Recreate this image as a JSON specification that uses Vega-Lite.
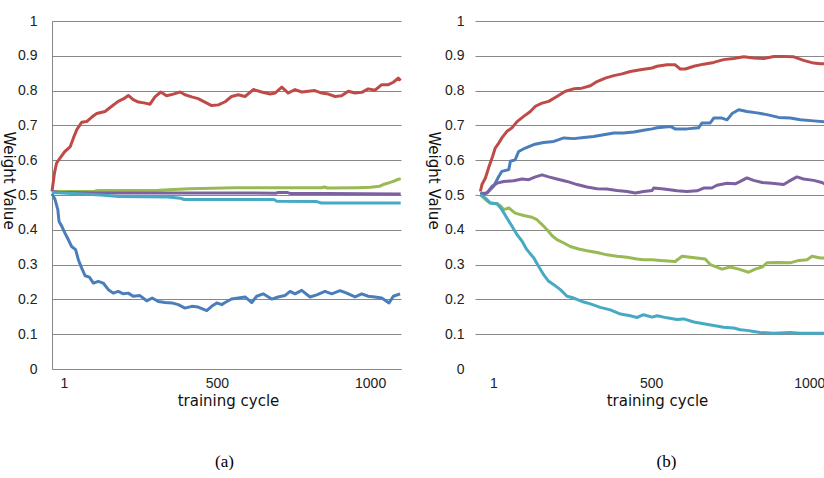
{
  "$schema": "https://vega.github.io/schema/vega-lite/v6.json",
  "background": "white",
  "padding": {"left": 0, "top": 14, "right": 0, "bottom": 0},
  "spacing": 22,
  "config": {
    "view": {"stroke": null},
    "axis": {
      "labelFont": "Liberation Sans",
      "labelFontSize": 14,
      "labelColor": "#222222",
      "titleFont": "DejaVu Sans",
      "titleFontSize": 15,
      "titleFontWeight": "normal",
      "titleColor": "#111111",
      "ticks": false,
      "labelFlush": false,
      "labelOverlap": false,
      "gridColor": "#888888",
      "gridWidth": 1,
      "domainColor": "#888888"
    },
    "title": {"font": "Liberation Serif", "fontSize": 17, "fontWeight": "normal", "color": "#000000"}
  },
  "datasets": {
    "a": [
      {"s":"s1","c":1,"v":0.504},{"s":"s1","c":11,"v":0.487},{"s":"s1","c":20,"v":0.458},{"s":"s1","c":24,"v":0.424},{"s":"s1","c":33,"v":0.410},{"s":"s1","c":43,"v":0.391},{"s":"s1","c":54,"v":0.372},{"s":"s1","c":65,"v":0.352},{"s":"s1","c":78,"v":0.343},{"s":"s1","c":87,"v":0.314},{"s":"s1","c":98,"v":0.290},{"s":"s1","c":109,"v":0.268},{"s":"s1","c":123,"v":0.264},{"s":"s1","c":136,"v":0.247},{"s":"s1","c":152,"v":0.252},{"s":"s1","c":168,"v":0.247},{"s":"s1","c":185,"v":0.228},{"s":"s1","c":201,"v":0.218},{"s":"s1","c":217,"v":0.223},{"s":"s1","c":234,"v":0.216},{"s":"s1","c":250,"v":0.218},{"s":"s1","c":266,"v":0.209},{"s":"s1","c":288,"v":0.211},{"s":"s1","c":310,"v":0.196},{"s":"s1","c":328,"v":0.204},{"s":"s1","c":348,"v":0.194},{"s":"s1","c":370,"v":0.191},{"s":"s1","c":392,"v":0.190},{"s":"s1","c":413,"v":0.185},{"s":"s1","c":435,"v":0.175},{"s":"s1","c":457,"v":0.180},{"s":"s1","c":478,"v":0.178},{"s":"s1","c":506,"v":0.168},{"s":"s1","c":522,"v":0.180},{"s":"s1","c":539,"v":0.190},{"s":"s1","c":555,"v":0.185},{"s":"s1","c":566,"v":0.191},{"s":"s1","c":587,"v":0.201},{"s":"s1","c":609,"v":0.204},{"s":"s1","c":631,"v":0.207},{"s":"s1","c":653,"v":0.191},{"s":"s1","c":669,"v":0.209},{"s":"s1","c":690,"v":0.216},{"s":"s1","c":718,"v":0.201},{"s":"s1","c":739,"v":0.207},{"s":"s1","c":761,"v":0.211},{"s":"s1","c":778,"v":0.223},{"s":"s1","c":794,"v":0.216},{"s":"s1","c":816,"v":0.226},{"s":"s1","c":843,"v":0.207},{"s":"s1","c":865,"v":0.213},{"s":"s1","c":892,"v":0.223},{"s":"s1","c":914,"v":0.216},{"s":"s1","c":941,"v":0.225},{"s":"s1","c":963,"v":0.218},{"s":"s1","c":990,"v":0.207},{"s":"s1","c":1012,"v":0.216},{"s":"s1","c":1033,"v":0.209},{"s":"s1","c":1055,"v":0.207},{"s":"s1","c":1077,"v":0.204},{"s":"s1","c":1101,"v":0.190},{"s":"s1","c":1115,"v":0.209},{"s":"s1","c":1137,"v":0.216},
      {"s":"s2","c":1,"v":0.510},{"s":"s2","c":9,"v":0.563},{"s":"s2","c":16,"v":0.592},{"s":"s2","c":27,"v":0.606},{"s":"s2","c":43,"v":0.625},{"s":"s2","c":60,"v":0.638},{"s":"s2","c":71,"v":0.664},{"s":"s2","c":82,"v":0.688},{"s":"s2","c":98,"v":0.709},{"s":"s2","c":114,"v":0.711},{"s":"s2","c":131,"v":0.724},{"s":"s2","c":147,"v":0.734},{"s":"s2","c":174,"v":0.740},{"s":"s2","c":196,"v":0.755},{"s":"s2","c":217,"v":0.769},{"s":"s2","c":234,"v":0.776},{"s":"s2","c":250,"v":0.786},{"s":"s2","c":266,"v":0.774},{"s":"s2","c":283,"v":0.767},{"s":"s2","c":305,"v":0.764},{"s":"s2","c":321,"v":0.761},{"s":"s2","c":337,"v":0.782},{"s":"s2","c":356,"v":0.796},{"s":"s2","c":375,"v":0.785},{"s":"s2","c":397,"v":0.790},{"s":"s2","c":419,"v":0.796},{"s":"s2","c":435,"v":0.788},{"s":"s2","c":457,"v":0.782},{"s":"s2","c":478,"v":0.777},{"s":"s2","c":500,"v":0.767},{"s":"s2","c":522,"v":0.757},{"s":"s2","c":544,"v":0.759},{"s":"s2","c":566,"v":0.768},{"s":"s2","c":587,"v":0.783},{"s":"s2","c":609,"v":0.788},{"s":"s2","c":631,"v":0.783},{"s":"s2","c":658,"v":0.803},{"s":"s2","c":685,"v":0.796},{"s":"s2","c":713,"v":0.790},{"s":"s2","c":729,"v":0.793},{"s":"s2","c":751,"v":0.810},{"s":"s2","c":772,"v":0.793},{"s":"s2","c":794,"v":0.803},{"s":"s2","c":816,"v":0.796},{"s":"s2","c":838,"v":0.798},{"s":"s2","c":859,"v":0.800},{"s":"s2","c":881,"v":0.793},{"s":"s2","c":903,"v":0.790},{"s":"s2","c":925,"v":0.783},{"s":"s2","c":946,"v":0.785},{"s":"s2","c":968,"v":0.798},{"s":"s2","c":990,"v":0.793},{"s":"s2","c":1012,"v":0.795},{"s":"s2","c":1033,"v":0.805},{"s":"s2","c":1055,"v":0.801},{"s":"s2","c":1077,"v":0.817},{"s":"s2","c":1099,"v":0.817},{"s":"s2","c":1115,"v":0.824},{"s":"s2","c":1131,"v":0.836},{"s":"s2","c":1139,"v":0.829},
      {"s":"s3","c":1,"v":0.510},{"s":"s3","c":140,"v":0.511},{"s":"s3","c":150,"v":0.513},{"s":"s3","c":350,"v":0.514},{"s":"s3","c":400,"v":0.516},{"s":"s3","c":450,"v":0.518},{"s":"s3","c":560,"v":0.520},{"s":"s3","c":600,"v":0.521},{"s":"s3","c":880,"v":0.521},{"s":"s3","c":890,"v":0.523},{"s":"s3","c":900,"v":0.520},{"s":"s3","c":1000,"v":0.521},{"s":"s3","c":1040,"v":0.522},{"s":"s3","c":1070,"v":0.525},{"s":"s3","c":1085,"v":0.531},{"s":"s3","c":1100,"v":0.535},{"s":"s3","c":1115,"v":0.539},{"s":"s3","c":1125,"v":0.543},{"s":"s3","c":1139,"v":0.547},
      {"s":"s4","c":1,"v":0.510},{"s":"s4","c":20,"v":0.508},{"s":"s4","c":150,"v":0.506},{"s":"s4","c":600,"v":0.506},{"s":"s4","c":730,"v":0.505},{"s":"s4","c":740,"v":0.507},{"s":"s4","c":770,"v":0.507},{"s":"s4","c":780,"v":0.504},{"s":"s4","c":900,"v":0.504},{"s":"s4","c":1139,"v":0.503},
      {"s":"s5","c":1,"v":0.507},{"s":"s5","c":100,"v":0.503},{"s":"s5","c":160,"v":0.500},{"s":"s5","c":220,"v":0.496},{"s":"s5","c":380,"v":0.494},{"s":"s5","c":420,"v":0.491},{"s":"s5","c":432,"v":0.487},{"s":"s5","c":725,"v":0.487},{"s":"s5","c":735,"v":0.482},{"s":"s5","c":865,"v":0.481},{"s":"s5","c":880,"v":0.477},{"s":"s5","c":1139,"v":0.477}
    ],
    "b": [
      {"s":"s1","c":1,"v":0.504},{"s":"s1","c":22,"v":0.506},{"s":"s1","c":43,"v":0.525},{"s":"s1","c":59,"v":0.553},{"s":"s1","c":69,"v":0.568},{"s":"s1","c":91,"v":0.573},{"s":"s1","c":96,"v":0.597},{"s":"s1","c":111,"v":0.601},{"s":"s1","c":122,"v":0.625},{"s":"s1","c":143,"v":0.635},{"s":"s1","c":170,"v":0.645},{"s":"s1","c":201,"v":0.651},{"s":"s1","c":233,"v":0.654},{"s":"s1","c":265,"v":0.664},{"s":"s1","c":296,"v":0.662},{"s":"s1","c":328,"v":0.665},{"s":"s1","c":359,"v":0.668},{"s":"s1","c":391,"v":0.673},{"s":"s1","c":423,"v":0.678},{"s":"s1","c":454,"v":0.678},{"s":"s1","c":486,"v":0.681},{"s":"s1","c":517,"v":0.686},{"s":"s1","c":544,"v":0.690},{"s":"s1","c":560,"v":0.693},{"s":"s1","c":602,"v":0.697},{"s":"s1","c":617,"v":0.690},{"s":"s1","c":654,"v":0.690},{"s":"s1","c":691,"v":0.693},{"s":"s1","c":702,"v":0.707},{"s":"s1","c":728,"v":0.707},{"s":"s1","c":739,"v":0.721},{"s":"s1","c":765,"v":0.721},{"s":"s1","c":781,"v":0.716},{"s":"s1","c":797,"v":0.734},{"s":"s1","c":818,"v":0.745},{"s":"s1","c":844,"v":0.740},{"s":"s1","c":876,"v":0.736},{"s":"s1","c":907,"v":0.731},{"s":"s1","c":944,"v":0.723},{"s":"s1","c":981,"v":0.721},{"s":"s1","c":1013,"v":0.716},{"s":"s1","c":1055,"v":0.713},{"s":"s1","c":1094,"v":0.710},
      {"s":"s2","c":1,"v":0.510},{"s":"s2","c":6,"v":0.530},{"s":"s2","c":17,"v":0.549},{"s":"s2","c":27,"v":0.578},{"s":"s2","c":38,"v":0.606},{"s":"s2","c":48,"v":0.635},{"s":"s2","c":59,"v":0.649},{"s":"s2","c":69,"v":0.664},{"s":"s2","c":85,"v":0.683},{"s":"s2","c":101,"v":0.693},{"s":"s2","c":117,"v":0.711},{"s":"s2","c":138,"v":0.726},{"s":"s2","c":159,"v":0.740},{"s":"s2","c":175,"v":0.755},{"s":"s2","c":196,"v":0.764},{"s":"s2","c":217,"v":0.769},{"s":"s2","c":243,"v":0.783},{"s":"s2","c":270,"v":0.798},{"s":"s2","c":296,"v":0.805},{"s":"s2","c":322,"v":0.807},{"s":"s2","c":349,"v":0.814},{"s":"s2","c":370,"v":0.826},{"s":"s2","c":396,"v":0.836},{"s":"s2","c":423,"v":0.843},{"s":"s2","c":449,"v":0.848},{"s":"s2","c":475,"v":0.855},{"s":"s2","c":507,"v":0.860},{"s":"s2","c":544,"v":0.865},{"s":"s2","c":560,"v":0.870},{"s":"s2","c":591,"v":0.874},{"s":"s2","c":617,"v":0.874},{"s":"s2","c":633,"v":0.862},{"s":"s2","c":649,"v":0.862},{"s":"s2","c":676,"v":0.870},{"s":"s2","c":707,"v":0.876},{"s":"s2","c":739,"v":0.881},{"s":"s2","c":770,"v":0.889},{"s":"s2","c":802,"v":0.892},{"s":"s2","c":834,"v":0.897},{"s":"s2","c":865,"v":0.894},{"s":"s2","c":897,"v":0.892},{"s":"s2","c":929,"v":0.898},{"s":"s2","c":960,"v":0.898},{"s":"s2","c":992,"v":0.897},{"s":"s2","c":1023,"v":0.887},{"s":"s2","c":1055,"v":0.879},{"s":"s2","c":1076,"v":0.877},{"s":"s2","c":1094,"v":0.877},
      {"s":"s3","c":1,"v":0.501},{"s":"s3","c":17,"v":0.487},{"s":"s3","c":32,"v":0.477},{"s":"s3","c":54,"v":0.475},{"s":"s3","c":64,"v":0.469},{"s":"s3","c":75,"v":0.458},{"s":"s3","c":91,"v":0.463},{"s":"s3","c":111,"v":0.448},{"s":"s3","c":138,"v":0.441},{"s":"s3","c":164,"v":0.436},{"s":"s3","c":180,"v":0.429},{"s":"s3","c":196,"v":0.415},{"s":"s3","c":212,"v":0.400},{"s":"s3","c":228,"v":0.383},{"s":"s3","c":243,"v":0.372},{"s":"s3","c":265,"v":0.362},{"s":"s3","c":285,"v":0.352},{"s":"s3","c":312,"v":0.345},{"s":"s3","c":338,"v":0.340},{"s":"s3","c":370,"v":0.335},{"s":"s3","c":401,"v":0.328},{"s":"s3","c":433,"v":0.324},{"s":"s3","c":465,"v":0.321},{"s":"s3","c":496,"v":0.316},{"s":"s3","c":517,"v":0.314},{"s":"s3","c":544,"v":0.314},{"s":"s3","c":570,"v":0.312},{"s":"s3","c":617,"v":0.309},{"s":"s3","c":639,"v":0.324},{"s":"s3","c":665,"v":0.321},{"s":"s3","c":712,"v":0.316},{"s":"s3","c":728,"v":0.300},{"s":"s3","c":765,"v":0.287},{"s":"s3","c":791,"v":0.293},{"s":"s3","c":818,"v":0.287},{"s":"s3","c":849,"v":0.278},{"s":"s3","c":870,"v":0.287},{"s":"s3","c":892,"v":0.293},{"s":"s3","c":907,"v":0.305},{"s":"s3","c":939,"v":0.306},{"s":"s3","c":981,"v":0.305},{"s":"s3","c":1008,"v":0.312},{"s":"s3","c":1034,"v":0.314},{"s":"s3","c":1050,"v":0.324},{"s":"s3","c":1076,"v":0.319},{"s":"s3","c":1094,"v":0.319},
      {"s":"s4","c":1,"v":0.501},{"s":"s4","c":22,"v":0.506},{"s":"s4","c":38,"v":0.525},{"s":"s4","c":54,"v":0.534},{"s":"s4","c":75,"v":0.539},{"s":"s4","c":106,"v":0.541},{"s":"s4","c":133,"v":0.546},{"s":"s4","c":154,"v":0.544},{"s":"s4","c":175,"v":0.552},{"s":"s4","c":196,"v":0.558},{"s":"s4","c":217,"v":0.552},{"s":"s4","c":243,"v":0.546},{"s":"s4","c":275,"v":0.539},{"s":"s4","c":307,"v":0.530},{"s":"s4","c":338,"v":0.523},{"s":"s4","c":370,"v":0.518},{"s":"s4","c":401,"v":0.517},{"s":"s4","c":433,"v":0.513},{"s":"s4","c":465,"v":0.510},{"s":"s4","c":491,"v":0.506},{"s":"s4","c":517,"v":0.510},{"s":"s4","c":544,"v":0.513},{"s":"s4","c":549,"v":0.520},{"s":"s4","c":581,"v":0.517},{"s":"s4","c":623,"v":0.512},{"s":"s4","c":654,"v":0.510},{"s":"s4","c":686,"v":0.512},{"s":"s4","c":707,"v":0.520},{"s":"s4","c":733,"v":0.520},{"s":"s4","c":749,"v":0.528},{"s":"s4","c":781,"v":0.534},{"s":"s4","c":807,"v":0.532},{"s":"s4","c":823,"v":0.539},{"s":"s4","c":844,"v":0.549},{"s":"s4","c":865,"v":0.542},{"s":"s4","c":892,"v":0.536},{"s":"s4","c":923,"v":0.534},{"s":"s4","c":960,"v":0.530},{"s":"s4","c":976,"v":0.539},{"s":"s4","c":1002,"v":0.552},{"s":"s4","c":1023,"v":0.546},{"s":"s4","c":1055,"v":0.542},{"s":"s4","c":1081,"v":0.536},{"s":"s4","c":1094,"v":0.530},
      {"s":"s5","c":1,"v":0.501},{"s":"s5","c":17,"v":0.491},{"s":"s5","c":32,"v":0.477},{"s":"s5","c":54,"v":0.475},{"s":"s5","c":69,"v":0.458},{"s":"s5","c":85,"v":0.434},{"s":"s5","c":101,"v":0.410},{"s":"s5","c":117,"v":0.386},{"s":"s5","c":133,"v":0.367},{"s":"s5","c":148,"v":0.343},{"s":"s5","c":170,"v":0.319},{"s":"s5","c":185,"v":0.295},{"s":"s5","c":201,"v":0.271},{"s":"s5","c":217,"v":0.252},{"s":"s5","c":238,"v":0.239},{"s":"s5","c":254,"v":0.228},{"s":"s5","c":275,"v":0.209},{"s":"s5","c":296,"v":0.204},{"s":"s5","c":322,"v":0.194},{"s":"s5","c":349,"v":0.187},{"s":"s5","c":380,"v":0.177},{"s":"s5","c":412,"v":0.170},{"s":"s5","c":444,"v":0.158},{"s":"s5","c":475,"v":0.153},{"s":"s5","c":496,"v":0.148},{"s":"s5","c":517,"v":0.156},{"s":"s5","c":544,"v":0.149},{"s":"s5","c":560,"v":0.153},{"s":"s5","c":591,"v":0.147},{"s":"s5","c":623,"v":0.142},{"s":"s5","c":644,"v":0.144},{"s":"s5","c":676,"v":0.135},{"s":"s5","c":707,"v":0.130},{"s":"s5","c":739,"v":0.125},{"s":"s5","c":770,"v":0.120},{"s":"s5","c":802,"v":0.118},{"s":"s5","c":823,"v":0.113},{"s":"s5","c":844,"v":0.111},{"s":"s5","c":865,"v":0.108},{"s":"s5","c":886,"v":0.105},{"s":"s5","c":929,"v":0.103},{"s":"s5","c":981,"v":0.105},{"s":"s5","c":1013,"v":0.103},{"s":"s5","c":1094,"v":0.103}
    ]
  },
  "hconcat": [
    {
      "width": 349,
      "height": 348,
      "data": {"name": "a"},
      "title": {"text": "(a)", "orient": "bottom", "anchor": "middle", "offset": 46, "dx": -2},
      "mark": {"type": "line", "strokeWidth": 3, "strokeJoin": "round"},
      "encoding": {
        "x": {
          "field": "c", "type": "quantitative",
          "scale": {"domain": [1, 1140], "nice": false, "zero": false},
          "axis": {"title": "training cycle", "values": [1, 500, 1000], "format": "d", "labelOffset": 12, "grid": false, "domain": true, "labelPadding": 7, "titlePadding": 3, "titleX": 176}
        },
        "y": {
          "field": "v", "type": "quantitative",
          "scale": {"domain": [0, 1], "nice": false, "zero": false},
          "axis": {"title": "Weight Value", "values": [0, 0.1, 0.2, 0.3, 0.4, 0.5, 0.6, 0.7, 0.8, 0.9, 1], "format": "~g", "grid": true, "domain": true, "labelPadding": 15, "titleAngle": 90, "titleX": -44, "titleY": 159, "titleAlign": "center", "titleBaseline": "middle"}
        },
        "color": {
          "field": "s", "type": "nominal",
          "scale": {"domain": ["s1", "s2", "s3", "s4", "s5"], "range": ["#4A7EBB", "#BE4B48", "#98B954", "#7D60A0", "#46AAC5"]},
          "legend": null
        }
      }
    },
    {
      "width": 351,
      "height": 348,
      "data": {"name": "b"},
      "title": {"text": "(b)", "orient": "bottom", "anchor": "middle", "offset": 46, "dx": 16},
      "mark": {"type": "line", "strokeWidth": 3, "strokeJoin": "round"},
      "encoding": {
        "x": {
          "field": "c", "type": "quantitative",
          "scale": {"domain": [-16, 1094], "nice": false, "zero": false},
          "axis": {"title": "training cycle", "values": [1, 500, 1000], "format": "d", "labelOffset": 13, "grid": false, "domain": false, "labelPadding": 7, "titlePadding": 3, "titleX": 182}
        },
        "y": {
          "field": "v", "type": "quantitative",
          "scale": {"domain": [0, 1], "nice": false, "zero": false},
          "axis": {"title": "Weight Value", "values": [0, 0.1, 0.2, 0.3, 0.4, 0.5, 0.6, 0.7, 0.8, 0.9, 1], "format": "~g", "grid": true, "gridOpacity": {"condition": {"test": "datum.value === 0", "value": 0}, "value": 1}, "domain": false, "labelPadding": 11, "titleAngle": 90, "titleX": -42, "titleY": 159, "titleAlign": "center", "titleBaseline": "middle"}
        },
        "color": {
          "field": "s", "type": "nominal",
          "scale": {"domain": ["s1", "s2", "s3", "s4", "s5"], "range": ["#4A7EBB", "#BE4B48", "#98B954", "#7D60A0", "#46AAC5"]},
          "legend": null
        }
      }
    }
  ]
}
